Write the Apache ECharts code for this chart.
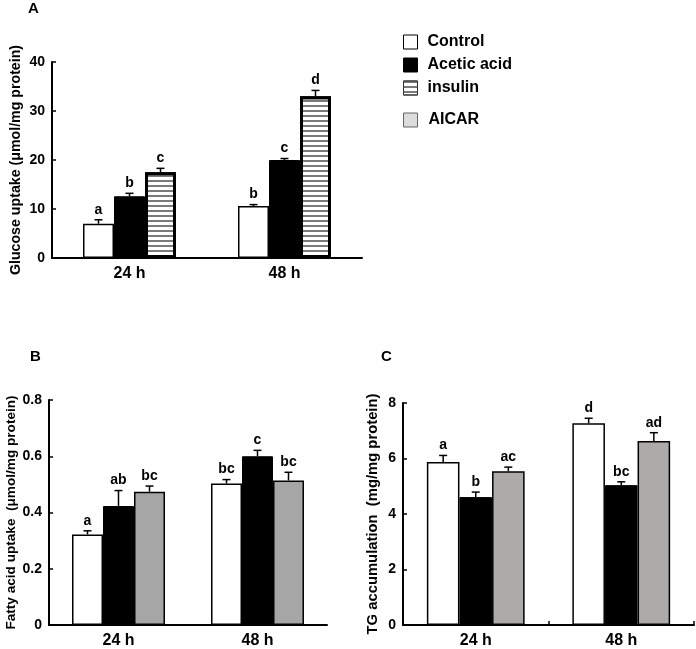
<!DOCTYPE html>
<html><head><meta charset="utf-8">
<script src="https://cdn.jsdelivr.net/npm/echarts@6/dist/echarts.min.js"></script>
<style>html,body{margin:0;padding:0;background:#fff}#c{width:696px;height:649px}</style>
</head><body><div id="c"></div>
<script>
const categories = ['24 h', '48 h'];
// Panel A: Glucose uptake
const glucoseControl = [7.0, 10.6];
const glucoseControlErr = [0.8, 0.3];
const glucoseControlSig = ['a', 'b'];
const glucoseAcetic = [12.6, 20.0];
const glucoseAceticErr = [0.6, 0.3];
const glucoseAceticSig = ['b', 'c'];
const glucoseInsulin = [17.5, 33.0];
const glucoseInsulinErr = [0.8, 1.2];
const glucoseInsulinSig = ['c', 'd'];
const glucoseTicks = [0, 40, 10];
// Panel B: Fatty acid uptake
const faControl = [0.322, 0.503];
const faControlErr = [0.013, 0.014];
const faControlSig = ['a', 'bc'];
const faAcetic = [0.423, 0.600];
const faAceticErr = [0.055, 0.021];
const faAceticSig = ['ab', 'c'];
const faAicar = [0.474, 0.514];
const faAicarErr = [0.020, 0.029];
const faAicarSig = ['bc', 'bc'];
const faTicks = [0, 0.8, 0.2];
// Panel C: TG accumulation
const tgControl = [5.87, 7.27];
const tgControlErr = [0.24, 0.18];
const tgControlSig = ['a', 'd'];
const tgAcetic = [4.61, 5.04];
const tgAceticErr = [0.18, 0.12];
const tgAceticSig = ['b', 'bc'];
const tgAicar = [5.54, 6.63];
const tgAicarErr = [0.15, 0.30];
const tgAicarSig = ['ac', 'ad'];
const tgTicks = [0, 8, 2];

const FONT = '"Liberation Sans", Arial, sans-serif';
const stripeDecal = { symbol: 'rect', symbolSize: 1, dashArrayX: [1, 0], dashArrayY: [1.6, 2.8], rotation: 0, color: '#7a7a7a' };

const chart = echarts.init(document.getElementById('c'), null, { renderer: 'canvas' });

function errSeries(idx, vals, errs, sigs, pos, n, frac) {
  return {
    type: 'custom', xAxisIndex: idx, yAxisIndex: idx, z: 5, silent: true,
    data: vals.map((v, i) => [i, v, errs[i], sigs[i]]),
    renderItem: function (params, api) {
      const ci = api.value(0), v = api.value(1), e = api.value(2);
      const sig = sigs[params.dataIndex];
      const band = api.size([1, 0])[0];
      const w = band * frac;
      const off = (pos - (n - 1) / 2) * w;
      const p0 = api.coord([ci, v]);
      const p1 = api.coord([ci, v + e]);
      const x = p0[0] + off;
      return {
        type: 'group', children: [
          { type: 'line', shape: { x1: x, y1: p0[1], x2: x, y2: p1[1] }, style: { stroke: '#000', lineWidth: 1.5 } },
          { type: 'line', shape: { x1: x - 4, y1: p1[1], x2: x + 4, y2: p1[1] }, style: { stroke: '#000', lineWidth: 1.5 } },
          { type: 'text', style: { x: x, y: p1[1] - 3, text: sig, align: 'center', verticalAlign: 'bottom', font: 'bold 14px ' + FONT, fill: '#000' } }
        ]
      };
    }
  };
}

function xAxis(idx, ticks) {
  return {
    type: 'category', gridIndex: idx, data: categories,
    axisLine: { lineStyle: { color: '#000', width: 2 } },
    axisTick: { show: ticks, inside: true, length: 4, lineStyle: { color: '#000', width: 1.5 } },
    axisLabel: { color: '#000', fontSize: 16, fontWeight: 'bold', fontFamily: FONT, margin: 8 }
  };
}
function yAxis(idx, t, name, gap, fs) {
  return {
    type: 'value', gridIndex: idx, min: t[0], max: t[1], interval: t[2],
    name: name, nameLocation: 'middle', nameGap: gap,
    nameTextStyle: { color: '#000', fontSize: fs, fontWeight: 'bold', fontFamily: FONT },
    splitLine: { show: false },
    axisLine: { show: true, lineStyle: { color: '#000', width: 2 } },
    axisTick: { show: true, inside: true, length: 4, lineStyle: { color: '#000', width: 1.5 } },
    axisLabel: { color: '#000', fontSize: 14, fontWeight: 'bold', fontFamily: FONT, margin: 7 }
  };
}
function bar(idx, name, data, style, frac, decal) {
  const s = {
    type: 'bar', name: name, xAxisIndex: idx, yAxisIndex: idx, data: data,
    barWidth: (frac * 100) + '%', barGap: '0%',
    itemStyle: Object.assign({}, style)
  };
  if (decal) s.itemStyle.decal = decal;
  return s;
}

const fA = 0.20, fB = 0.223, fC = 0.224;
const ctrlStyle = { color: '#fff', borderColor: '#000', borderWidth: 1.5 };
const aceStyle = { color: '#000', borderColor: '#000', borderWidth: 1 };

chart.setOption({
  animation: false,
  textStyle: { fontFamily: FONT },
  grid: [
    { left: 52, right: 334, top: 62, bottom: 391 },
    { left: 49, right: 369, top: 400, bottom: 22 },
    { left: 403, right: 2, top: 403, bottom: 23 }
  ],
  xAxis: [xAxis(0, false), xAxis(1, false), xAxis(2, true)],
  yAxis: [
    yAxis(0, glucoseTicks, 'Glucose uptake (\u03bcmol/mg protein)', 29, 14.2),
    yAxis(1, faTicks, 'Fatty acid uptake  (\u03bcmol/mg protein)', 31, 13.6),
    yAxis(2, tgTicks, 'TG accumulation  (mg/mg protein)', 23, 14.8)
  ],
  legend: [
    {
      orient: 'vertical', left: 398, top: 29, itemWidth: 14, itemHeight: 14, itemGap: 7,
      textStyle: { color: '#000', fontSize: 16, fontWeight: 'bold', fontFamily: FONT, padding: [0, 0, 0, 5] },
      data: [
        { name: 'Control', icon: 'rect', itemStyle: { color: '#fff', borderColor: '#000', borderWidth: 1 } },
        { name: 'Acetic acid', icon: 'rect', itemStyle: { color: '#000', borderColor: '#000', borderWidth: 1 } },
        { name: 'insulin', icon: 'rect', itemStyle: { color: '#fff', borderColor: '#333', borderWidth: 1, decal: stripeDecal } }
      ],
      selectedMode: false
    },
    {
      orient: 'vertical', left: 398, top: 107, itemWidth: 14, itemHeight: 14,
      textStyle: { color: '#000', fontSize: 16, fontWeight: 'bold', fontFamily: FONT, padding: [0, 0, 0, 6] },
      data: [{ name: 'AICAR', icon: 'rect', itemStyle: { color: '#dcdcdc', borderColor: '#666', borderWidth: 1 } }],
      selectedMode: false
    }
  ],
  graphic: [
    { type: 'text', left: 28, top: 1, style: { text: 'A', font: 'bold 15px ' + FONT, fill: '#000' } },
    { type: 'text', left: 30, top: 349, style: { text: 'B', font: 'bold 15px ' + FONT, fill: '#000' } },
    { type: 'text', left: 381, top: 349, style: { text: 'C', font: 'bold 15px ' + FONT, fill: '#000' } }
  ],
  series: [
    bar(0, 'Control', glucoseControl, ctrlStyle, fA),
    bar(0, 'Acetic acid', glucoseAcetic, aceStyle, fA),
    bar(0, 'insulin', glucoseInsulin, { color: '#fff', borderColor: '#000', borderWidth: 3 }, fA, stripeDecal),
    errSeries(0, glucoseControl, glucoseControlErr, glucoseControlSig, 0, 3, fA),
    errSeries(0, glucoseAcetic, glucoseAceticErr, glucoseAceticSig, 1, 3, fA),
    errSeries(0, glucoseInsulin, glucoseInsulinErr, glucoseInsulinSig, 2, 3, fA),

    bar(1, 'Control', faControl, ctrlStyle, fB),
    bar(1, 'Acetic acid', faAcetic, aceStyle, fB),
    bar(1, 'AICAR', faAicar, { color: '#a6a6a6', borderColor: '#000', borderWidth: 1.5 }, fB),
    errSeries(1, faControl, faControlErr, faControlSig, 0, 3, fB),
    errSeries(1, faAcetic, faAceticErr, faAceticSig, 1, 3, fB),
    errSeries(1, faAicar, faAicarErr, faAicarSig, 2, 3, fB),

    bar(2, 'Control', tgControl, ctrlStyle, fC),
    bar(2, 'Acetic acid', tgAcetic, aceStyle, fC),
    bar(2, 'AICAR', tgAicar, { color: '#adaaaa', borderColor: '#000', borderWidth: 1.5 }, fC),
    errSeries(2, tgControl, tgControlErr, tgControlSig, 0, 3, fC),
    errSeries(2, tgAcetic, tgAceticErr, tgAceticSig, 1, 3, fC),
    errSeries(2, tgAicar, tgAicarErr, tgAicarSig, 2, 3, fC)
  ]
});
</script></body></html>
